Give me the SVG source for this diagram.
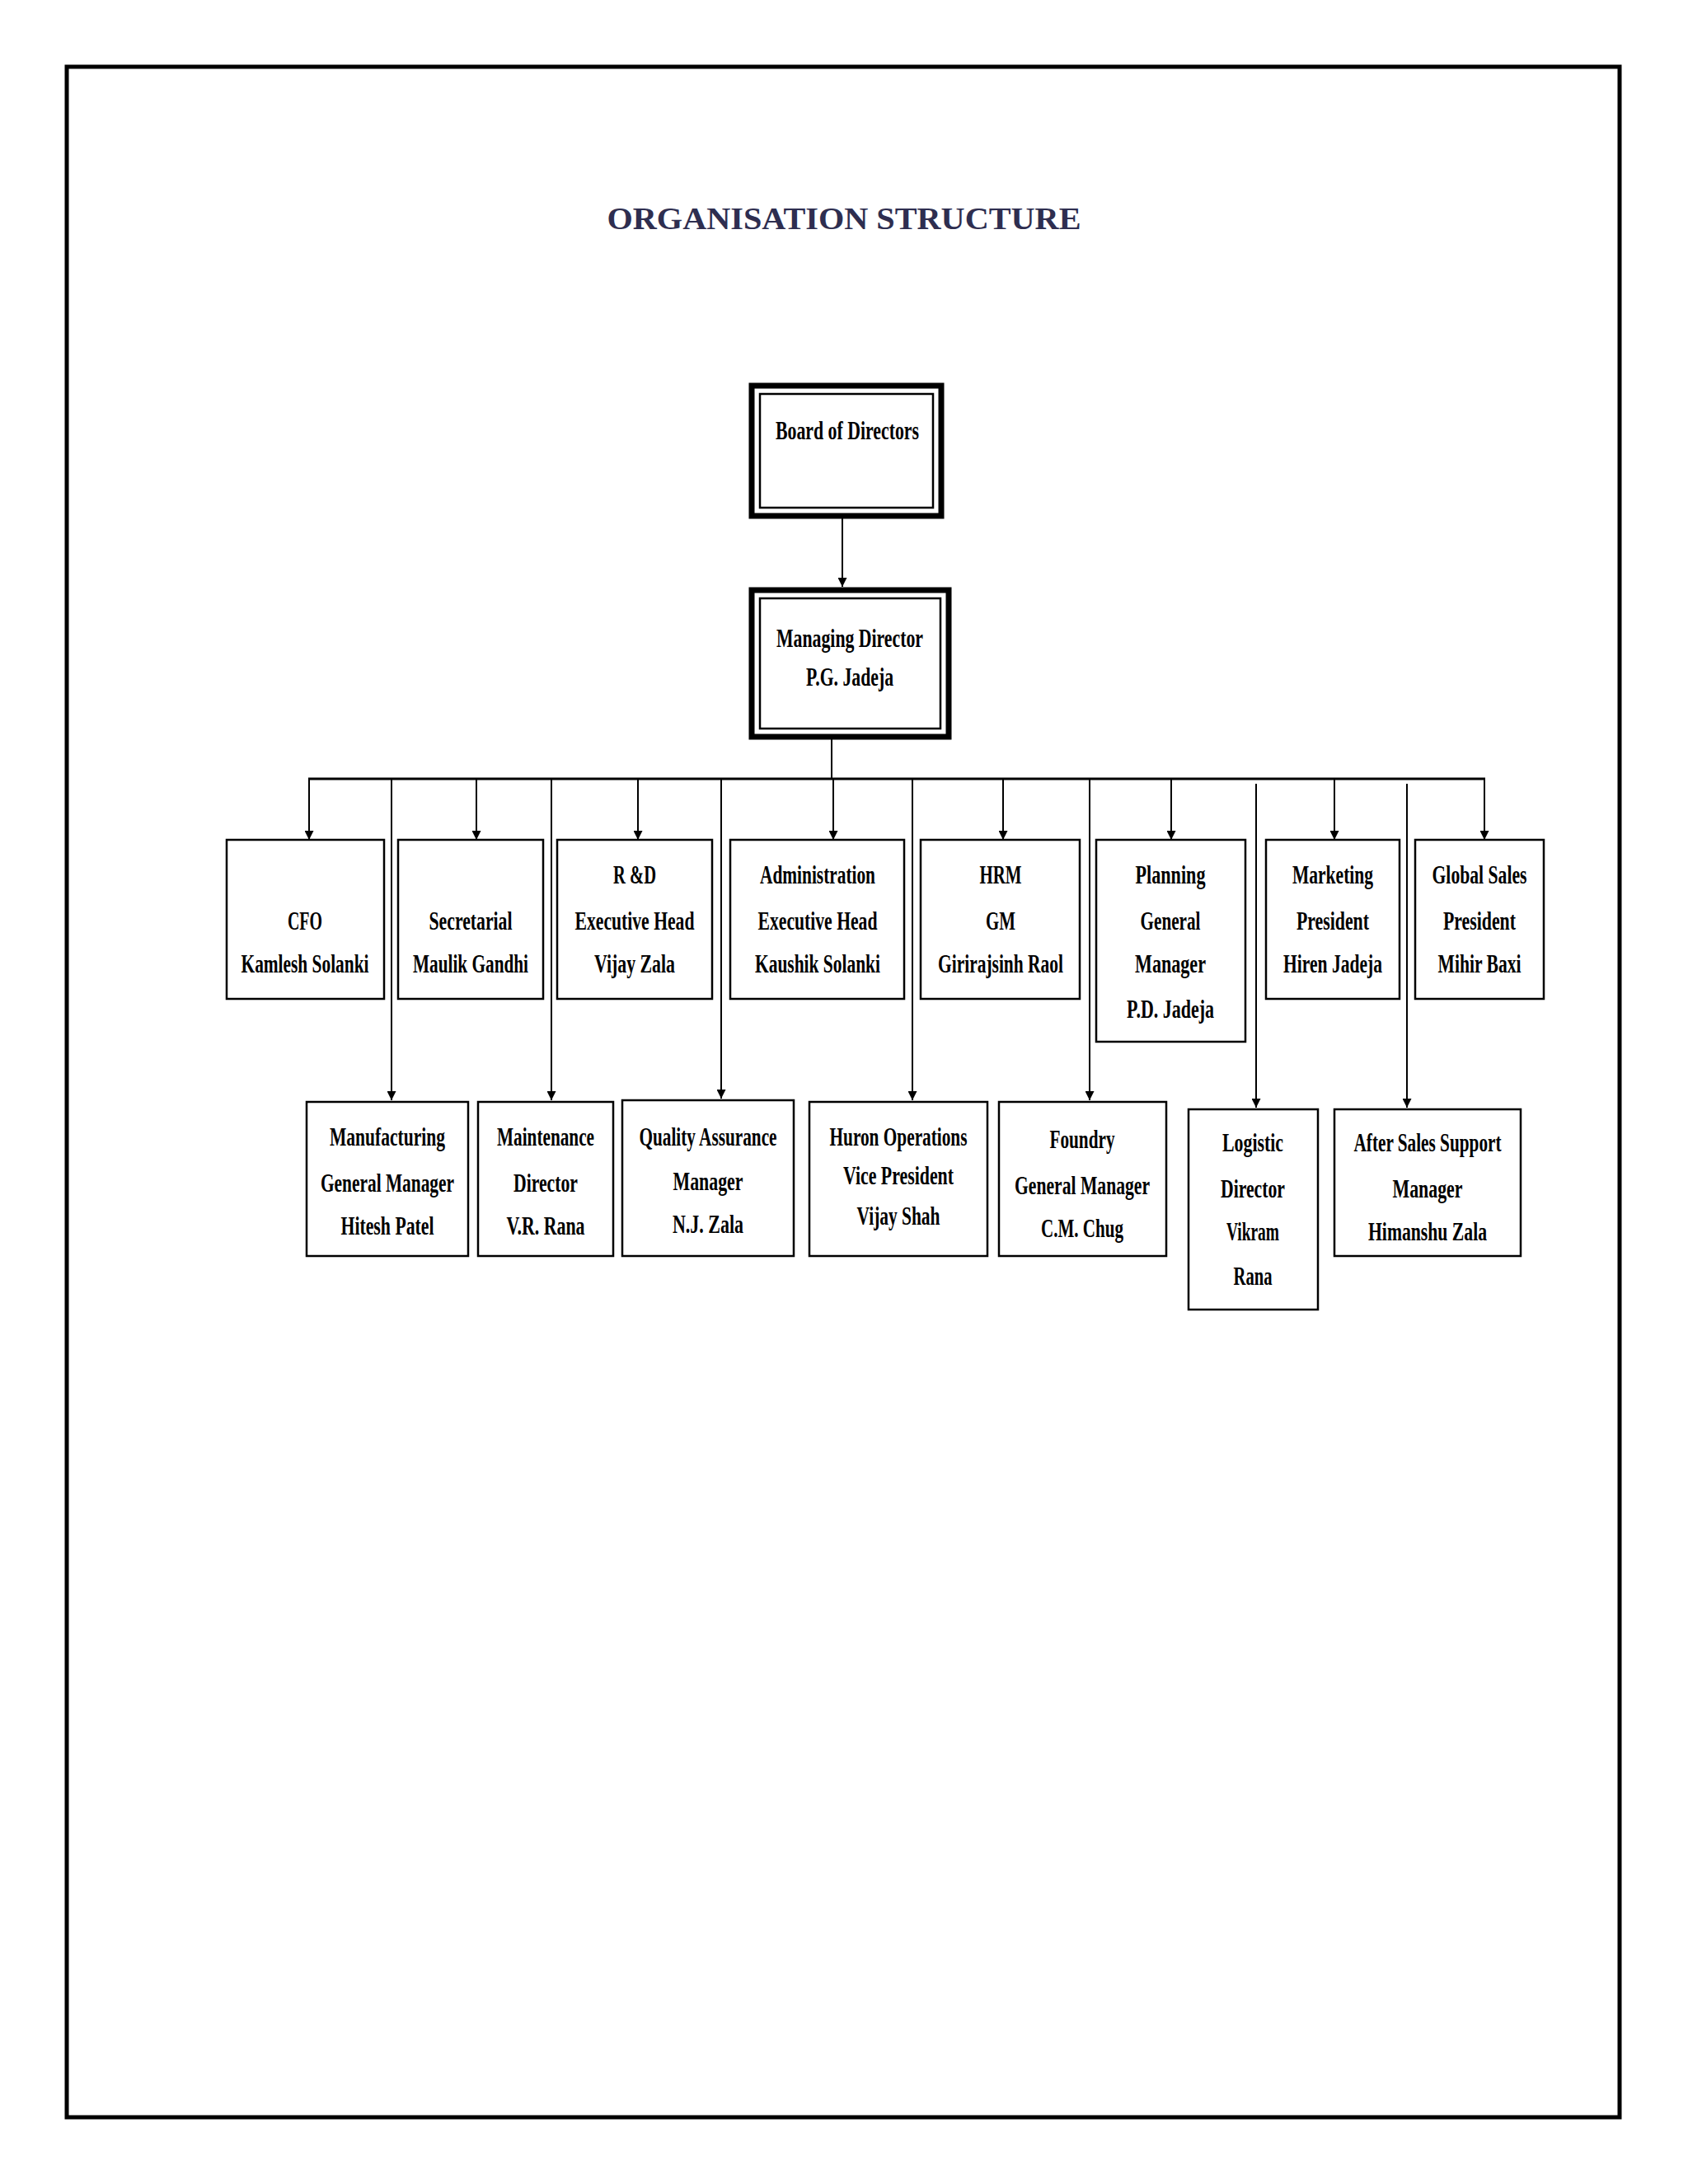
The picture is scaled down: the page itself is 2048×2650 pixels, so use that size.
<svg xmlns="http://www.w3.org/2000/svg" width="2048" height="2650" viewBox="0 0 2048 2650">
<style>
.b{fill:#fff;stroke:#000;stroke-width:2.5}
.t{font-family:"Liberation Serif",serif;font-weight:bold;font-size:32px;text-anchor:middle;dominant-baseline:central;fill:#000}
.c{stroke:#000;stroke-width:2;fill:none}
.bus{stroke:#000;stroke-width:3;fill:none}
</style>
<defs><marker id="a" viewBox="0 0 10 10" refX="10" refY="5" markerWidth="18" markerHeight="11" markerUnits="userSpaceOnUse" orient="auto"><path d="M0,0L10,5L0,10z" fill="#000"/></marker></defs>
<rect width="2048" height="2650" fill="#fff"/>
<rect x="81" y="81" width="1884" height="2488" fill="none" stroke="#000" stroke-width="5"/>
<text x="1024" y="265" font-family="Liberation Serif,serif" font-weight="bold" font-size="38" text-anchor="middle" dominant-baseline="central" fill="#2e2e50" textLength="575" lengthAdjust="spacingAndGlyphs">ORGANISATION STRUCTURE</text>
<g id="board"><rect x="912" y="468" width="230" height="158" fill="#fff" stroke="#000" stroke-width="7"/><rect x="922" y="478" width="210" height="138" fill="none" stroke="#000" stroke-width="2.5"/><text class="t" x="1028" y="522" textLength="174" lengthAdjust="spacingAndGlyphs">Board of Directors</text></g>
<g id="md"><rect x="912" y="716" width="239" height="178" fill="#fff" stroke="#000" stroke-width="7"/><rect x="922" y="726" width="219" height="158" fill="none" stroke="#000" stroke-width="2.5"/><text class="t" x="1031" y="774" textLength="178" lengthAdjust="spacingAndGlyphs">Managing Director</text><text class="t" x="1031" y="821" textLength="106" lengthAdjust="spacingAndGlyphs">P.G. Jadeja</text></g>
<g id="connectors">
<line class="c" x1="1022" y1="629" x2="1022" y2="712" marker-end="url(#a)"/>
<line class="c" x1="1009" y1="897" x2="1009" y2="945"/>
<line class="bus" x1="374" y1="945" x2="1802" y2="945"/>
<line class="c" x1="375" y1="945" x2="375" y2="1019" marker-end="url(#a)"/>
<line class="c" x1="578" y1="945" x2="578" y2="1019" marker-end="url(#a)"/>
<line class="c" x1="774" y1="945" x2="774" y2="1019" marker-end="url(#a)"/>
<line class="c" x1="1011" y1="945" x2="1011" y2="1019" marker-end="url(#a)"/>
<line class="c" x1="1217" y1="945" x2="1217" y2="1019" marker-end="url(#a)"/>
<line class="c" x1="1421" y1="945" x2="1421" y2="1019" marker-end="url(#a)"/>
<line class="c" x1="1619" y1="945" x2="1619" y2="1019" marker-end="url(#a)"/>
<line class="c" x1="1801" y1="945" x2="1801" y2="1019" marker-end="url(#a)"/>
<line class="c" x1="475" y1="945" x2="475" y2="1335" marker-end="url(#a)"/>
<line class="c" x1="669" y1="945" x2="669" y2="1335" marker-end="url(#a)"/>
<line class="c" x1="875" y1="945" x2="875" y2="1333" marker-end="url(#a)"/>
<line class="c" x1="1107" y1="945" x2="1107" y2="1335" marker-end="url(#a)"/>
<line class="c" x1="1322" y1="945" x2="1322" y2="1335" marker-end="url(#a)"/>
<line class="c" x1="1524" y1="951" x2="1524" y2="1344" marker-end="url(#a)"/>
<line class="c" x1="1707" y1="951" x2="1707" y2="1344" marker-end="url(#a)"/>
</g>
<g id="cfo"><rect class="b" x="275" y="1019" width="191" height="193"/><text class="t" x="370" y="1117" textLength="42" lengthAdjust="spacingAndGlyphs">CFO</text><text class="t" x="370" y="1169" textLength="155" lengthAdjust="spacingAndGlyphs">Kamlesh Solanki</text></g>
<g id="sec"><rect class="b" x="483" y="1019" width="176" height="193"/><text class="t" x="571" y="1117" textLength="101" lengthAdjust="spacingAndGlyphs">Secretarial</text><text class="t" x="571" y="1169" textLength="140" lengthAdjust="spacingAndGlyphs">Maulik Gandhi</text></g>
<g id="rd"><rect class="b" x="676" y="1019" width="188" height="193"/><text class="t" x="770" y="1061" textLength="52" lengthAdjust="spacingAndGlyphs">R &amp;D</text><text class="t" x="770" y="1117" textLength="145" lengthAdjust="spacingAndGlyphs">Executive Head</text><text class="t" x="770" y="1169" textLength="98" lengthAdjust="spacingAndGlyphs">Vijay Zala</text></g>
<g id="admin"><rect class="b" x="886" y="1019" width="211" height="193"/><text class="t" x="992" y="1061" textLength="140" lengthAdjust="spacingAndGlyphs">Administration</text><text class="t" x="992" y="1117" textLength="145" lengthAdjust="spacingAndGlyphs">Executive Head</text><text class="t" x="992" y="1169" textLength="152" lengthAdjust="spacingAndGlyphs">Kaushik Solanki</text></g>
<g id="hrm"><rect class="b" x="1117" y="1019" width="193" height="193"/><text class="t" x="1214" y="1061" textLength="51" lengthAdjust="spacingAndGlyphs">HRM</text><text class="t" x="1214" y="1117" textLength="36" lengthAdjust="spacingAndGlyphs">GM</text><text class="t" x="1214" y="1169" textLength="152" lengthAdjust="spacingAndGlyphs">Girirajsinh Raol</text></g>
<g id="planning"><rect class="b" x="1330" y="1019" width="181" height="245"/><text class="t" x="1420" y="1061" textLength="85" lengthAdjust="spacingAndGlyphs">Planning</text><text class="t" x="1420" y="1117" textLength="73" lengthAdjust="spacingAndGlyphs">General</text><text class="t" x="1420" y="1169" textLength="86" lengthAdjust="spacingAndGlyphs">Manager</text><text class="t" x="1420" y="1224" textLength="106" lengthAdjust="spacingAndGlyphs">P.D. Jadeja</text></g>
<g id="marketing"><rect class="b" x="1536" y="1019" width="162" height="193"/><text class="t" x="1617" y="1061" textLength="98" lengthAdjust="spacingAndGlyphs">Marketing</text><text class="t" x="1617" y="1117" textLength="88" lengthAdjust="spacingAndGlyphs">President</text><text class="t" x="1617" y="1169" textLength="120" lengthAdjust="spacingAndGlyphs">Hiren Jadeja</text></g>
<g id="global"><rect class="b" x="1717" y="1019" width="156" height="193"/><text class="t" x="1795" y="1061" textLength="115" lengthAdjust="spacingAndGlyphs">Global Sales</text><text class="t" x="1795" y="1117" textLength="88" lengthAdjust="spacingAndGlyphs">President</text><text class="t" x="1795" y="1169" textLength="101" lengthAdjust="spacingAndGlyphs">Mihir Baxi</text></g>
<g id="mfg"><rect class="b" x="372" y="1337" width="196" height="187"/><text class="t" x="470" y="1379" textLength="140" lengthAdjust="spacingAndGlyphs">Manufacturing</text><text class="t" x="470" y="1435" textLength="162" lengthAdjust="spacingAndGlyphs">General Manager</text><text class="t" x="470" y="1487" textLength="113" lengthAdjust="spacingAndGlyphs">Hitesh Patel</text></g>
<g id="maint"><rect class="b" x="580" y="1337" width="164" height="187"/><text class="t" x="662" y="1379" textLength="118" lengthAdjust="spacingAndGlyphs">Maintenance</text><text class="t" x="662" y="1435" textLength="78" lengthAdjust="spacingAndGlyphs">Director</text><text class="t" x="662" y="1487" textLength="95" lengthAdjust="spacingAndGlyphs">V.R. Rana</text></g>
<g id="qa"><rect class="b" x="755" y="1335" width="208" height="189"/><text class="t" x="859" y="1379" textLength="167" lengthAdjust="spacingAndGlyphs">Quality Assurance</text><text class="t" x="859" y="1433" textLength="85" lengthAdjust="spacingAndGlyphs">Manager</text><text class="t" x="859" y="1485" textLength="86" lengthAdjust="spacingAndGlyphs">N.J. Zala</text></g>
<g id="huron"><rect class="b" x="982" y="1337" width="216" height="187"/><text class="t" x="1090" y="1379" textLength="167" lengthAdjust="spacingAndGlyphs">Huron Operations</text><text class="t" x="1090" y="1426" textLength="134" lengthAdjust="spacingAndGlyphs">Vice President</text><text class="t" x="1090" y="1475" textLength="101" lengthAdjust="spacingAndGlyphs">Vijay Shah</text></g>
<g id="foundry"><rect class="b" x="1212" y="1337" width="203" height="187"/><text class="t" x="1313" y="1382" textLength="79" lengthAdjust="spacingAndGlyphs">Foundry</text><text class="t" x="1313" y="1438" textLength="164" lengthAdjust="spacingAndGlyphs">General Manager</text><text class="t" x="1313" y="1490" textLength="100" lengthAdjust="spacingAndGlyphs">C.M. Chug</text></g>
<g id="logistic"><rect class="b" x="1442" y="1346" width="157" height="243"/><text class="t" x="1520" y="1386" textLength="74" lengthAdjust="spacingAndGlyphs">Logistic</text><text class="t" x="1520" y="1442" textLength="78" lengthAdjust="spacingAndGlyphs">Director</text><text class="t" x="1520" y="1494" textLength="64" lengthAdjust="spacingAndGlyphs">Vikram</text><text class="t" x="1520" y="1548" textLength="47" lengthAdjust="spacingAndGlyphs">Rana</text></g>
<g id="aftersales"><rect class="b" x="1619" y="1346" width="226" height="178"/><text class="t" x="1732" y="1386" textLength="179" lengthAdjust="spacingAndGlyphs">After Sales Support</text><text class="t" x="1732" y="1442" textLength="85" lengthAdjust="spacingAndGlyphs">Manager</text><text class="t" x="1732" y="1494" textLength="144" lengthAdjust="spacingAndGlyphs">Himanshu Zala</text></g>
</svg>
